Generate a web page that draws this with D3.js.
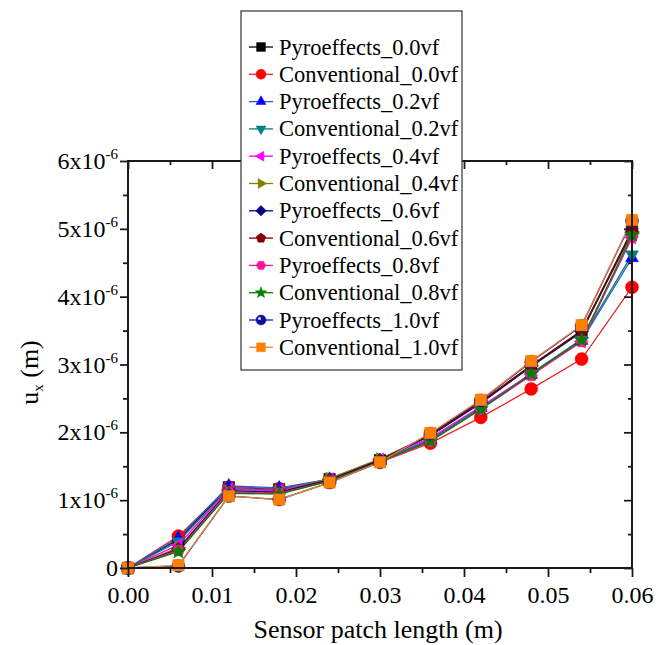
<!DOCTYPE html>
<html>
<head>
<meta charset="utf-8">
<script src="https://cdn.jsdelivr.net/npm/d3@7"></script>
<style>
  html, body { margin: 0; padding: 0; background: #fff; }
  svg { display: block; font-family: "Liberation Serif", "Times New Roman", serif; }
</style>
</head>
<body>
<svg id="chart" width="659" height="645"></svg>
<script>
// ---- data ----
const xValues = [0, 0.006, 0.012, 0.018, 0.024, 0.030, 0.036, 0.042, 0.048, 0.054, 0.060];
const seriesNames = [
  "Pyroeffects_0.0vf", "Conventional_0.0vf", "Pyroeffects_0.2vf", "Conventional_0.2vf",
  "Pyroeffects_0.4vf", "Conventional_0.4vf", "Pyroeffects_0.6vf", "Conventional_0.6vf",
  "Pyroeffects_0.8vf", "Conventional_0.8vf", "Pyroeffects_1.0vf", "Conventional_1.0vf"
];
// values in units of 1e-6 m
const pyro00 = [0, 0.42, 1.19, 1.16, 1.31, 1.59, 1.95, 2.43, 2.97, 3.48, 4.97];
const conv00 = [0, 0.47, 1.19, 1.17, 1.30, 1.56, 1.84, 2.22, 2.64, 3.08, 4.14];
const pyro02 = [0, 0.44, 1.21, 1.18, 1.31, 1.58, 1.90, 2.36, 2.85, 3.35, 4.57];
const conv02 = [0, 0.39, 1.17, 1.15, 1.30, 1.57, 1.89, 2.36, 2.87, 3.37, 4.62];
const pyro04 = [0, 0.34, 1.16, 1.14, 1.31, 1.60, 1.92, 2.38, 2.86, 3.34, 4.87];
const conv04 = [0, 0.30, 1.13, 1.12, 1.32, 1.61, 1.96, 2.44, 2.98, 3.49, 4.93];
const pyro06 = [0, 0.28, 1.14, 1.12, 1.30, 1.59, 1.96, 2.44, 2.98, 3.49, 4.96];
const conv06 = [0, 0.27, 1.11, 1.10, 1.29, 1.58, 1.97, 2.45, 2.99, 3.50, 4.98];
const pyro08 = [0, 0.26, 1.12, 1.10, 1.28, 1.56, 1.87, 2.34, 2.84, 3.34, 4.88];
const conv08 = [0, 0.24, 1.10, 1.09, 1.28, 1.57, 1.87, 2.34, 2.86, 3.36, 4.91];
const pyro10 = [0, 0.03, 1.06, 1.01, 1.26, 1.56, 1.98, 2.47, 3.04, 3.57, 5.12];
const conv10 = [0, 0.04, 1.06, 1.01, 1.26, 1.56, 1.99, 2.48, 3.05, 3.58, 5.13];
const seriesValues = [pyro00, conv00, pyro02, conv02, pyro04, conv04, pyro06, conv06, pyro08, conv08, pyro10, conv10];
const scaleFactor = 1e-6;

const xTickValues = [0, 0.01, 0.02, 0.03, 0.04, 0.05, 0.06];
const xTickLabels = ["0.00", "0.01", "0.02", "0.03", "0.04", "0.05", "0.06"];
const yTickValues = [0, 1e-6, 2e-6, 3e-6, 4e-6, 5e-6, 6e-6];
const yTickMantissa = ["0", "1", "2", "3", "4", "5", "6"];

// ---- styles ----
const markerColors = ["#000000", "#ff0000", "#0000ff", "#008080", "#ff00ff", "#808000",
                      "#000080", "#800000", "#ff1493", "#008000", "#1010a0", "#ff8000"];
const lineColors   = ["#000000", "#e8262b", "#1f5fd8", "#0a7a7a", "#ff00ff", "#808000",
                      "#000080", "#800000", "#ff1493", "#008000", "#1a1aa8", "#e0863a"];
const markerShapes = ["square", "circle", "triUp", "triDown", "triLeft", "triRight",
                      "diamond", "pentagon", "hexagon", "star", "sphere", "square"];

(function () {
const svg = d3.select("#chart");
const pLeft = 128, pRight = 632, pTop = 161, pBottom = 568;
const x = d3.scaleLinear().domain([0, 0.06]).range([pLeft, pRight]);
const y = d3.scaleLinear().domain([0, 6e-6]).range([pBottom, pTop]);
const FONT = "Liberation Serif, Times New Roman, serif";

function polygon(n, startDeg, R) {
  const pts = [];
  for (let i = 0; i < n; i++) {
    const a = (startDeg + i * 360 / n) * Math.PI / 180;
    pts.push([R * Math.cos(a), R * Math.sin(a)]);
  }
  return "M" + pts.map(p => p[0].toFixed(2) + "," + p[1].toFixed(2)).join("L") + "Z";
}
function starPath(R) {
  const pts = [];
  for (let i = 0; i < 10; i++) {
    const rr = i % 2 === 0 ? R : R * 0.42;
    const a = (-90 + i * 36) * Math.PI / 180;
    pts.push([rr * Math.cos(a), rr * Math.sin(a)]);
  }
  return "M" + pts.map(p => p[0].toFixed(2) + "," + p[1].toFixed(2)).join("L") + "Z";
}
function shapePath(shape, s) {
  switch (shape) {
    case "square": return `M${-s*0.88},${-s*0.88}h${s*1.76}v${s*1.76}h${-s*1.76}Z`;
    case "circle":
    case "sphere": return d3.arc()({innerRadius: 0, outerRadius: s, startAngle: 0, endAngle: 2 * Math.PI});
    case "triUp": return polygon(3, -90, s * 1.15);
    case "triDown": return polygon(3, 90, s * 1.15);
    case "triLeft": return polygon(3, 180, s * 1.15);
    case "triRight": return polygon(3, 0, s * 1.15);
    case "diamond": return polygon(4, -90, s * 1.05);
    case "pentagon": return polygon(5, -90, s * 1.0);
    case "hexagon": return polygon(6, 0, s * 0.95);
    case "star": return starPath(s * 1.2);
  }
}
function drawMarker(g, shape, color, cx, cy, s) {
  g.append("path")
    .attr("d", shapePath(shape, s))
    .attr("transform", `translate(${cx},${cy})`)
    .attr("fill", color)
    .attr("stroke", color)
    .attr("stroke-width", 0.5);
  if (shape === "sphere") {
    g.append("circle")
      .attr("cx", cx - s * 0.3).attr("cy", cy - s * 0.3).attr("r", s * 0.3)
      .attr("fill", "#ffffff").attr("opacity", 0.85);
  }
}

// ---- series ----
const line = d3.line().x(d => x(d[0])).y(d => y(d[1]));
const plotG = svg.append("g");
seriesValues.forEach((vals, i) => {
  const pts = xValues.map((xv, j) => [xv, vals[j] * scaleFactor]);
  plotG.append("path")
    .attr("d", line(pts))
    .attr("fill", "none")
    .attr("stroke", lineColors[i])
    .attr("stroke-width", 1.3);
});
seriesValues.forEach((vals, i) => {
  const g = plotG.append("g");
  xValues.forEach((xv, j) => {
    drawMarker(g, markerShapes[i], markerColors[i], x(xv), y(vals[j] * scaleFactor), 6.5);
  });
});

// ---- axes ----
const axisColor = "#1a1a1a";
const fontSize = 24;
const xMinor = [0.005, 0.015, 0.025, 0.035, 0.045, 0.055];
const bottomAxis = svg.append("g").attr("transform", `translate(0,${pBottom})`)
  .call(d3.axisBottom(x).tickValues(xTickValues).tickSize(9).tickFormat((d, i) => xTickLabels[i]));
svg.append("g").attr("transform", `translate(0,${pBottom})`)
  .call(d3.axisBottom(x).tickValues(xMinor).tickSize(5).tickFormat(""));
svg.append("g").attr("transform", `translate(0,${pTop})`)
  .call(d3.axisBottom(x).tickValues(xTickValues).tickSize(8).tickFormat(""));
svg.append("g").attr("transform", `translate(0,${pTop})`)
  .call(d3.axisBottom(x).tickValues(xMinor).tickSize(4).tickFormat(""));
const yMinor = [0.5e-6, 1.5e-6, 2.5e-6, 3.5e-6, 4.5e-6, 5.5e-6];
svg.append("g").attr("transform", `translate(${pLeft},0)`)
  .call(d3.axisLeft(y).tickValues(yTickValues).tickSize(8).tickFormat(""));
svg.append("g").attr("transform", `translate(${pLeft},0)`)
  .call(d3.axisLeft(y).tickValues(yMinor).tickSize(5).tickFormat(""));
svg.append("g").attr("transform", `translate(${pRight},0)`)
  .call(d3.axisLeft(y).tickValues(yTickValues).tickSize(8).tickFormat(""));
svg.append("g").attr("transform", `translate(${pRight},0)`)
  .call(d3.axisLeft(y).tickValues(yMinor).tickSize(4).tickFormat(""));

svg.selectAll(".domain").remove();
svg.selectAll(".tick line").attr("stroke", axisColor).attr("stroke-width", 1.8);

bottomAxis.attr("font-family", FONT);
bottomAxis.selectAll(".tick text")
  .attr("font-family", FONT)
  .attr("font-size", fontSize)
  .attr("fill", "#000")
  .attr("y", 18);

yTickValues.forEach((v, i) => {
  const t = svg.append("text")
    .attr("x", 118)
    .attr("y", y(v) + 8)
    .attr("text-anchor", "end")
    .attr("font-family", FONT)
    .attr("font-size", fontSize)
    .attr("fill", "#000");
  if (v === 0) {
    t.text("0");
  } else {
    t.append("tspan").text(yTickMantissa[i] + "x10");
    t.append("tspan").attr("font-size", 15).attr("dy", -10).text("-6");
  }
});

svg.append("rect")
  .attr("x", pLeft).attr("y", pTop)
  .attr("width", pRight - pLeft).attr("height", pBottom - pTop)
  .attr("fill", "none").attr("stroke", axisColor).attr("stroke-width", 2);

svg.append("text")
  .attr("x", (pLeft + pRight) / 2 - 2)
  .attr("y", 638)
  .attr("text-anchor", "middle")
  .attr("font-family", FONT)
  .attr("font-size", 26)
  .attr("fill", "#000")
  .text("Sensor patch length (m)");

const yt = svg.append("text")
  .attr("transform", `translate(38,${(pTop + pBottom) / 2 + 8}) rotate(-90)`)
  .attr("text-anchor", "middle")
  .attr("font-family", FONT)
  .attr("font-size", 26)
  .attr("fill", "#000");
yt.append("tspan").text("u");
yt.append("tspan").attr("font-size", 15).attr("dy", 5).text("x");
yt.append("tspan").attr("dy", -5).text(" (m)");

// ---- legend ----
const legG = svg.append("g");
legG.append("rect")
  .attr("x", 241).attr("y", 11).attr("width", 221).attr("height", 359)
  .attr("fill", "#fff").attr("stroke", "#333").attr("stroke-width", 1.2);
seriesNames.forEach((name, i) => {
  const cy = 47 + i * 27.3;
  legG.append("line")
    .attr("x1", 249).attr("x2", 273).attr("y1", cy).attr("y2", cy)
    .attr("stroke", lineColors[i]).attr("stroke-width", 1.3);
  drawMarker(legG, markerShapes[i], markerColors[i], 261, cy, 5);
  legG.append("text")
    .attr("x", 279).attr("y", cy + 7.5)
    .attr("font-family", FONT)
    .attr("font-size", 22.5)
    .attr("fill", "#000")
    .text(name);
});
})();
</script>
</body>
</html>
